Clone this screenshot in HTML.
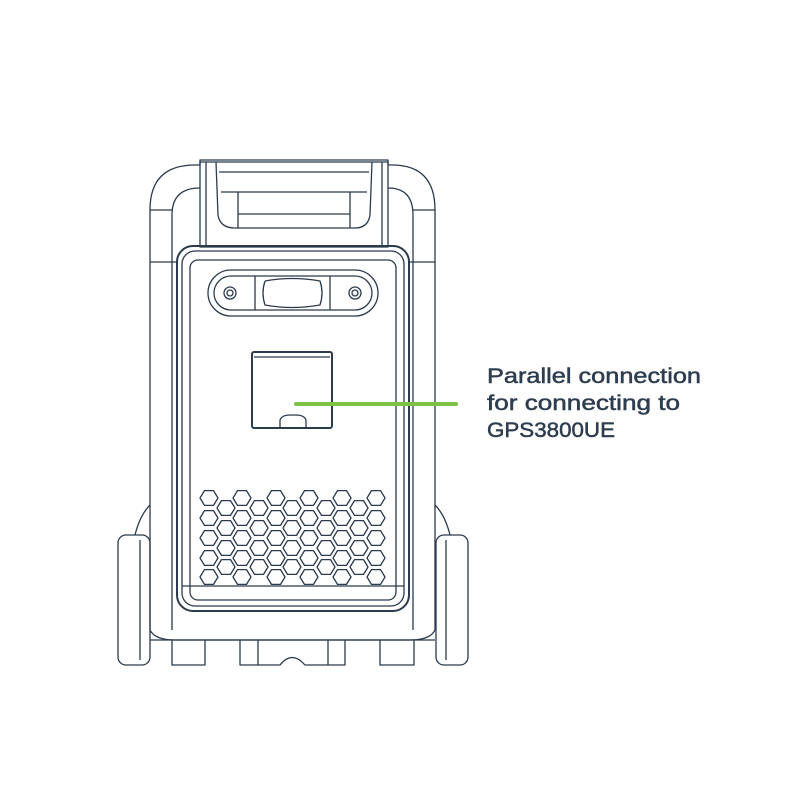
<!DOCTYPE html>
<html><head><meta charset="utf-8"><style>html,body{margin:0;padding:0;background:#fff;}svg{display:block}</style></head>
<body>
<svg id="s" width="800" height="800" viewBox="0 0 800 800" xmlns="http://www.w3.org/2000/svg">
<g fill="none" stroke="#2b3a4c" stroke-width="1.3" stroke-linejoin="round">
<path d="M150,630 L150,210 Q150,165 195,165 L200,165 L200,160 L388,160 L388,165 L392,165 Q435,165 435,210 L435,630"/>
<path d="M172,630 L172,215 Q172,188 200,188 M413,630 L413,215 Q413,188 388,188"/>
<line x1="150" y1="262" x2="177" y2="262"/><line x1="409" y1="262" x2="435" y2="262"/>
<line x1="150" y1="210" x2="172" y2="210"/><line x1="413" y1="210" x2="435" y2="210"/>
<rect x="200" y="162" width="188" height="85"/>
<line x1="206" y1="162" x2="206" y2="247"/><line x1="382" y1="162" x2="382" y2="247"/>
<path d="M216,162 L218,215 Q220,228 235,228 L355,228 Q368,228 370,215 L372,162"/>
<line x1="219" y1="172" x2="369" y2="172"/><line x1="221" y1="192" x2="367" y2="192"/>
<line x1="238" y1="214" x2="350" y2="214"/>
<line x1="238" y1="192" x2="238" y2="228"/><line x1="350" y1="192" x2="350" y2="228"/>
<rect x="177" y="246" width="232" height="365" rx="16" stroke-width="2"/>
<rect x="182" y="251" width="222" height="355" rx="13"/>
<rect x="190" y="260" width="206" height="340" rx="8"/>
<line x1="182" y1="586" x2="404" y2="586"/>
<rect x="208" y="270" width="170" height="46" rx="23"/>
<rect x="214" y="276" width="158" height="34" rx="17"/>
<line x1="255" y1="276" x2="255" y2="310"/><line x1="330" y1="276" x2="330" y2="310"/>
<path d="M265,281 Q292,276 320,281 Q324,293 320,305 Q292,310 265,305 Q261,293 265,281"/>
<circle cx="230" cy="293" r="6"/><circle cx="230" cy="293" r="3"/>
<circle cx="355" cy="293" r="6"/><circle cx="355" cy="293" r="3"/>
<rect x="252" y="352" width="80" height="76" rx="2" stroke-width="2"/>
<line x1="254" y1="357" x2="330" y2="357"/>
<path d="M280,428 L280,420 Q282,415 290,415 L296,415 Q304,415 306,420 L306,428"/>
<path d="M150,505 Q140,515 135,535 M435,505 Q445,515 450,535"/>
<path d="M150,630 Q155,640 175,640 L410,640 Q430,640 435,630"/>
<line x1="150" y1="640" x2="435" y2="640"/>
<rect x="118" y="535" width="32" height="130" rx="8"/><line x1="140" y1="540" x2="140" y2="660"/>
<rect x="436" y="535" width="32" height="130" rx="8"/><line x1="446" y1="540" x2="446" y2="660"/>
<path d="M172,640 L172,665 L205,665 L205,640"/>
<path d="M240,640 L240,665 L280,665 Q292,650 305,665 L345,665 L345,640"/>
<line x1="258" y1="640" x2="258" y2="665"/><line x1="328" y1="640" x2="328" y2="665"/>
<path d="M380,640 L380,665 L414,665 L414,640"/>
<g id="hex"></g>
</g>
<line x1="296" y1="404" x2="456" y2="404" stroke="#7dc242" stroke-width="4" stroke-linecap="round"/>
<g font-family="Liberation Sans, sans-serif" font-size="21" fill="#2e3d4f" stroke="#2e3d4f" stroke-width="0.5">
<text x="487" y="383" textLength="214" lengthAdjust="spacingAndGlyphs">Parallel connection</text>
<text x="487" y="410" textLength="193" lengthAdjust="spacingAndGlyphs">for connecting to</text>
<text x="487" y="437" textLength="128" lengthAdjust="spacingAndGlyphs">GPS3800UE</text>
</g>
</svg>
<script>
var g=document.getElementById('hex'),h='';
function hx(cx,cy){var r=9,p=[];for(var i=0;i<6;i++){var a=Math.PI/3*i;p.push((cx+r*Math.cos(a)).toFixed(1)+','+(cy+r*Math.sin(a)*0.95).toFixed(1));}
h+='<polygon points="'+p.join(' ')+'"/>';}
[209,242,276,309,342,376].forEach(function(x){[498,518,538,558,577].forEach(function(y){hx(x,y);});});
[226,259,292,326,359].forEach(function(x){[508,528,548,567].forEach(function(y){hx(x,y);});});
g.innerHTML=h;
</script>
</body></html>
